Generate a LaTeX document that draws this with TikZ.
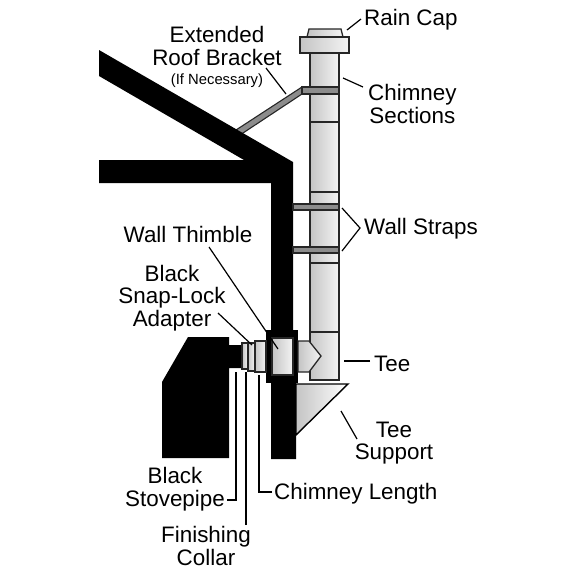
\documentclass[tikz,border=0pt]{standalone}
\usepackage{xcolor}
\usepackage{fontspec}
\setmainfont{Liberation Sans}
\usetikzlibrary{positioning}
\definecolor{strapgray}{HTML}{8C8C8C}
\definecolor{pipegray}{HTML}{C4C4C4}
\definecolor{pipelight}{HTML}{F4F4F4}
\tikzset{
  label text/.style={font=\fontsize{22.4}{22.6}\selectfont, inner sep=0pt, align=center},
  pipe part/.style={draw=black!85, line width=1.3pt, left color=pipegray, right color=pipelight},
  strap part/.style={draw=black!85, line width=1.1pt, fill=strapgray},
  leader/.style={draw=black, line width=1.2pt}
}
\begin{document}
\begin{tikzpicture}[x=1pt, y=-1pt]
  \useasboundingbox (0,0) rectangle (574,574);
  % house and stove
  \draw[strap part] (302,87) -- (236,130) -- (240,135) -- (302,94) -- cycle;
  \fill (99,50) -- (293,162) -- (293,383) -- (296,383) -- (296,459) -- (271,459) -- (271,183)
     -- (99,183) -- (99,160) -- (244,160) -- (99,76) -- cycle;
  \fill (188,337) -- (229,337) -- (229,345) -- (242,345) -- (242,368) -- (229,368) -- (229,458)
     -- (162,458) -- (162,382) -- cycle;
  % chimney
  \draw[pipe part] (310,53) rectangle (339,380);
  \foreach \joint in {122,192,263,332}
    \draw[draw=black!85, line width=1.2pt] (310,\joint) -- (339,\joint);
  \draw[pipe part] (307,37) -- (309,29) -- (341,29) -- (343,37) -- cycle;
  \draw[pipe part] (300,37) rectangle (349,53);
  % straps
  \draw[strap part] (302,87) rectangle (339,94);
  \foreach \strapy in {204,247}
    \draw[strap part] (293,\strapy) rectangle (339,\strapy+6);
  % thimble, collar and tee
  \fill (266,330) rectangle (298,383);
  \draw[pipe part] (272,338) rectangle (293,375);
  \draw[pipe part] (255,341) rectangle (266,372);
  \draw[pipe part] (248,343) rectangle (255,371);
  \draw[pipe part] (242,343) rectangle (248,369);
  \draw[pipe part] (298,341) -- (309,341) -- (321,356) -- (309,372) -- (298,372) -- cycle;
  \draw[draw=black, line width=1.4pt, left color=pipegray, right color=white]
     (296,384) -- (348,384) -- (296,435) -- cycle;
  % labels
  \node[label text] (bracket) at (217,57) {Extended\\Roof Bracket\\[-3pt]{\fontsize{14.8}{15}\selectfont (If Necessary)}};
  \node[label text, anchor=west] (raincap) at (364,20) {Rain Cap};
  \node[label text, anchor=west] (sections) at (368,104) {Chimney\\Sections};
  \node[label text, anchor=west] (wallstraps) at (364,229) {Wall Straps};
  \node[label text] (thimble) at (188,234) {Wall Thimble};
  \node[label text] (adapter) at (172,298) {Black\\Snap-Lock\\Adapter};
  \node[label text, anchor=west] (tee) at (374,364) {Tee};
  \node[label text] (teesupport) at (394,443) {Tee\\Support};
  \node[label text] (stovepipe) at (175,489) {Black\\Stovepipe};
  \node[label text, anchor=west] (length) at (274,494) {Chimney Length};
  \node[label text] (collar) at (206,546) {Finishing\\Collar};
  % leader ends
  \coordinate (raincapA) at (361,19);
  \coordinate (raincapB) at (347,30);
  \coordinate (sectionsA) at (363,87);
  \coordinate (sectionsB) at (343,78);
  \coordinate (bracketA) at (266,68);
  \coordinate (bracketB) at (286,94);
  \coordinate (strapA) at (342,208);
  \coordinate (strapB) at (360,228);
  \coordinate (strapC) at (342,251);
  \coordinate (teeA) at (370,361);
  \coordinate (teeB) at (344,361);
  \coordinate (supportA) at (357,439);
  \coordinate (supportB) at (341,411);
  \coordinate (thimbleA) at (209,247);
  \coordinate (thimbleB) at (278,349);
  \coordinate (adapterA) at (218,313);
  \coordinate (adapterB) at (252,345);
  \coordinate (lengthA) at (272,492);
  \coordinate (lengthB) at (259,375);
  \coordinate (collarA) at (246,525);
  \coordinate (collarB) at (246,372);
  \coordinate (stoveA) at (227,500);
  \coordinate (stoveB) at (236,372);
  % leaders
  \draw[leader] (raincapA) -- (raincapB);
  \draw[leader] (sectionsA) -- (sectionsB);
  \draw[leader] (bracketA) -- (bracketB);
  \draw[leader] (strapA) -- (strapB) -- (strapC);
  \draw[leader] (teeA) -- (teeB);
  \draw[leader] (supportA) -- (supportB);
  \draw[leader] (thimbleA) -- (thimbleB);
  \draw[leader] (adapterA) -- (adapterB);
  \draw[leader] (lengthA) -| (lengthB);
  \draw[leader] (collarA) -- (collarB);
  \draw[leader] (stoveA) -| (stoveB);
\end{tikzpicture}
\end{document}
